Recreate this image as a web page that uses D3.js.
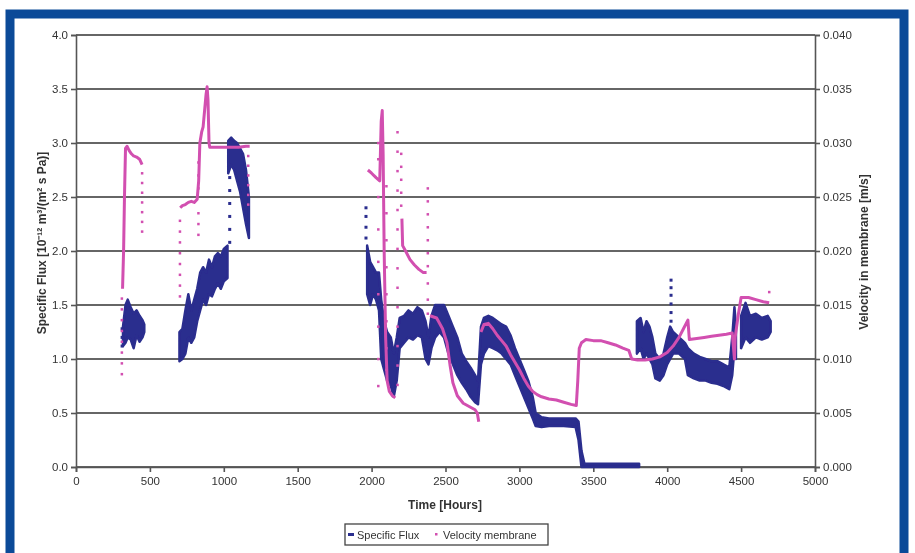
<!DOCTYPE html>
<html>
<head>
<meta charset="utf-8">
<script src="https://cdn.jsdelivr.net/npm/d3@7"></script>
<style>
  html, body { margin: 0; padding: 0; background: #fff; }
  svg { display: block; font-family: "Liberation Sans", Arial, sans-serif; }
</style>
</head>
<body>
<svg id="chart" width="915" height="553"></svg>
<script>
// ---------------- DATA ----------------
const xTicks = [0, 500, 1000, 1500, 2000, 2500, 3000, 3500, 4000, 4500, 5000];
const leftTicks = [0, 0.5, 1.0, 1.5, 2.0, 2.5, 3.0, 3.5, 4.0];
const rightTicks = [0, 0.005, 0.010, 0.015, 0.020, 0.025, 0.030, 0.035, 0.040];

const seriesNames = ["Specific Flux", "Velocity membrane"];
const xTitle = "Time  [Hours]";
const leftTitle = "Specific Flux  [10\u207B\u00B9\u00B2 m\u00B3/(m\u00B2 s Pa)]";
const rightTitle = "Velocity in membrane  [m/s]";

// Specific flux: dense noisy cloud, given as [time, low, high]
const fluxSeg1 = [
  [318, 1.12, 1.30], [335, 1.15, 1.50], [350, 1.20, 1.55], [370, 1.18, 1.48],
  [390, 1.10, 1.42], [410, 1.22, 1.45], [430, 1.16, 1.40], [450, 1.20, 1.36], [462, 1.25, 1.32]
];
const fluxSeg2 = [
  [700, 0.98, 1.25], [720, 1.00, 1.28], [740, 1.05, 1.45], [760, 1.20, 1.60],
  [780, 1.15, 1.45], [800, 1.20, 1.55], [820, 1.35, 1.65], [840, 1.45, 1.80],
  [860, 1.55, 1.85], [880, 1.50, 1.80], [900, 1.60, 1.92], [920, 1.58, 1.85],
  [940, 1.65, 1.95], [960, 1.70, 1.98], [980, 1.65, 1.95], [1000, 1.72, 2.02],
  [1025, 1.75, 2.05]
];
const fluxSeg3 = [
  [1030, 2.72, 3.02], [1050, 2.80, 3.05], [1070, 2.75, 3.02], [1090, 2.65, 3.00],
  [1110, 2.55, 2.95], [1130, 2.40, 2.90], [1150, 2.25, 2.75], [1170, 2.12, 2.50]
];
const fluxSeg4 = [
  [1970, 1.60, 2.05], [1990, 1.50, 1.90], [2010, 1.60, 1.85], [2030, 1.55, 1.80],
  [2050, 1.45, 1.80], [2065, 1.00, 1.55], [2085, 0.90, 1.35], [2105, 0.80, 1.25],
  [2130, 0.75, 1.20], [2150, 0.65, 1.05], [2170, 0.80, 1.20], [2190, 1.10, 1.38],
  [2220, 1.15, 1.40], [2250, 1.20, 1.45], [2280, 1.18, 1.42], [2310, 1.22, 1.48],
  [2340, 1.20, 1.45], [2365, 1.00, 1.35], [2385, 0.95, 1.20], [2405, 1.10, 1.40],
  [2430, 1.20, 1.50], [2460, 1.25, 1.50], [2490, 1.20, 1.50], [2520, 1.05, 1.40],
  [2550, 0.95, 1.30], [2580, 0.85, 1.20], [2610, 0.78, 1.05], [2640, 0.72, 0.98],
  [2670, 0.65, 0.92], [2700, 0.60, 0.85], [2720, 0.58, 0.80], [2740, 0.95, 1.30],
  [2760, 1.05, 1.38], [2790, 1.12, 1.40], [2820, 1.10, 1.38], [2850, 1.08, 1.35],
  [2880, 1.05, 1.32], [2910, 1.00, 1.30], [2940, 0.95, 1.22], [2970, 0.85, 1.10],
  [3000, 0.75, 1.00], [3030, 0.65, 0.90], [3060, 0.55, 0.80], [3090, 0.45, 0.65],
  [3110, 0.38, 0.50], [3150, 0.37, 0.46], [3200, 0.38, 0.45], [3300, 0.38, 0.45],
  [3380, 0.37, 0.45], [3400, 0.25, 0.42], [3420, 0.00, 0.15], [3440, 0.00, 0.03],
  [3810, 0.00, 0.03]
];
const fluxSeg5 = [
  [3795, 1.05, 1.35], [3820, 1.10, 1.38], [3840, 1.00, 1.25], [3860, 1.05, 1.35],
  [3880, 1.00, 1.30], [3900, 0.95, 1.20], [3920, 0.82, 1.05], [3950, 0.80, 1.00],
  [3975, 0.85, 1.05], [4000, 0.95, 1.20], [4020, 1.00, 1.30], [4040, 1.05, 1.25],
  [4080, 1.05, 1.20], [4120, 1.00, 1.15], [4140, 0.85, 1.10], [4180, 0.82, 1.05],
  [4220, 0.80, 1.02], [4260, 0.80, 1.00], [4300, 0.78, 0.98], [4340, 0.77, 0.98],
  [4380, 0.75, 0.95], [4420, 0.72, 0.92], [4440, 0.85, 1.20], [4455, 1.10, 1.48],
  [4465, 1.00, 1.30]
];
const fluxSeg6 = [
  [4500, 1.10, 1.40], [4530, 1.20, 1.52], [4560, 1.15, 1.40], [4600, 1.20, 1.42],
  [4640, 1.18, 1.38], [4680, 1.20, 1.40], [4700, 1.25, 1.35]
];
const fluxSegments = [fluxSeg1, fluxSeg2, fluxSeg3, fluxSeg4, fluxSeg5, fluxSeg6];

// Isolated flux markers (sparse columns): [time, value]
const fluxDots = [
  [312, 1.12], [312, 1.20], [312, 1.28],
  [1040, 2.08], [1040, 2.20], [1040, 2.32], [1040, 2.44], [1040, 2.56], [1040, 2.68],
  [1962, 2.12], [1962, 2.22], [1962, 2.32], [1962, 2.40],
  [4026, 1.35], [4026, 1.43], [4026, 1.51], [4026, 1.59], [4026, 1.66], [4026, 1.73]
];

// Velocity in membrane [m/s]: line segments [time, value]
const velSeg1 = [
  [315, 0.0165], [322, 0.0200], [328, 0.0250], [335, 0.0295], [345, 0.0297],
  [360, 0.0293], [375, 0.0290], [390, 0.0288], [410, 0.0287], [430, 0.0285], [447, 0.0280]
];
const velSeg2 = [
  [705, 0.0240], [720, 0.0242], [740, 0.0243], [760, 0.0245], [780, 0.0246],
  [800, 0.0245], [820, 0.0248], [830, 0.0265], [838, 0.0300], [850, 0.0310],
  [860, 0.0315], [870, 0.0330], [880, 0.0345], [887, 0.0352], [893, 0.0340],
  [900, 0.0300], [905, 0.0296], [950, 0.0296], [1000, 0.0296], [1050, 0.0296],
  [1100, 0.0296], [1150, 0.0297], [1175, 0.0297]
];
const velSeg3 = [
  [1975, 0.0275], [2000, 0.0272], [2030, 0.0268], [2055, 0.0265], [2065, 0.0320],
  [2072, 0.0330], [2078, 0.0290], [2085, 0.0200], [2095, 0.0120], [2105, 0.0080],
  [2120, 0.0070], [2140, 0.0066], [2160, 0.0064]
];
const velSeg4 = [
  [2205, 0.0230], [2210, 0.0205], [2230, 0.0200], [2260, 0.0192], [2290, 0.0187],
  [2320, 0.0183], [2350, 0.0180], [2372, 0.0180]
];
const velSeg5 = [
  [2395, 0.0140], [2440, 0.0138], [2480, 0.0128], [2510, 0.0115], [2530, 0.0095],
  [2550, 0.0078], [2580, 0.0066], [2620, 0.0059], [2660, 0.0056], [2700, 0.0053],
  [2715, 0.0050], [2725, 0.0042]
];
const velSeg6 = [
  [2740, 0.0125], [2760, 0.0132], [2790, 0.0133], [2820, 0.0128], [2850, 0.0122],
  [2880, 0.0117], [2910, 0.0112], [2940, 0.0104], [2970, 0.0097], [3000, 0.0090],
  [3030, 0.0082], [3060, 0.0075], [3090, 0.0070], [3120, 0.0067], [3150, 0.0065],
  [3200, 0.0063], [3250, 0.0062], [3300, 0.0060], [3350, 0.0058], [3385, 0.0057],
  [3395, 0.0080], [3405, 0.0110], [3420, 0.0115], [3450, 0.0118], [3500, 0.0117],
  [3550, 0.0117], [3600, 0.0115], [3650, 0.0113], [3700, 0.0110], [3740, 0.0108],
  [3760, 0.0100], [3800, 0.0099], [3850, 0.0099], [3900, 0.0100], [3950, 0.0102],
  [4000, 0.0106], [4040, 0.0112], [4080, 0.0120], [4110, 0.0128], [4140, 0.0136],
  [4150, 0.0118], [4200, 0.0119], [4250, 0.0120], [4300, 0.0121], [4350, 0.0122],
  [4400, 0.0123], [4440, 0.0124], [4455, 0.0100], [4460, 0.0120], [4480, 0.0140],
  [4500, 0.0157], [4550, 0.0157], [4600, 0.0155], [4650, 0.0153], [4690, 0.0152]
];
const velSegments = [velSeg1, velSeg2, velSeg3, velSeg4, velSeg5, velSeg6];

// Isolated velocity markers (sparse dotted columns): [time, value]
const velDots = [
  [310, 0.0086], [310, 0.0096], [310, 0.0106], [310, 0.0116], [310, 0.0126], [310, 0.0136], [310, 0.0146], [310, 0.0156],
  [447, 0.0272], [447, 0.0263], [447, 0.0254], [447, 0.0245], [447, 0.0236], [447, 0.0227], [447, 0.0218],
  [703, 0.0158], [703, 0.0168], [703, 0.0178], [703, 0.0188], [703, 0.0198], [703, 0.0208], [703, 0.0218], [703, 0.0228],
  [828, 0.0215], [828, 0.0225], [828, 0.0235], [828, 0.0258], [828, 0.0270], [828, 0.0282],
  [1165, 0.0288], [1165, 0.0279], [1165, 0.0270], [1165, 0.0261], [1165, 0.0252], [1165, 0.0243],
  [2045, 0.0300], [2045, 0.0285], [2045, 0.0250], [2045, 0.0220], [2045, 0.0190], [2045, 0.0160], [2045, 0.0130], [2045, 0.0100], [2045, 0.0075],
  [2100, 0.0260], [2100, 0.0235], [2100, 0.0210], [2100, 0.0185], [2100, 0.0160], [2100, 0.0135], [2100, 0.0110], [2100, 0.0090],
  [2175, 0.0310], [2175, 0.0292], [2175, 0.0274], [2175, 0.0256], [2175, 0.0238], [2175, 0.0220], [2175, 0.0202], [2175, 0.0184], [2175, 0.0166], [2175, 0.0148], [2175, 0.0130], [2175, 0.0112], [2175, 0.0094], [2175, 0.0076],
  [2200, 0.0290], [2200, 0.0278], [2200, 0.0266], [2200, 0.0254], [2200, 0.0242],
  [2380, 0.0258], [2380, 0.0246], [2380, 0.0234], [2380, 0.0222], [2380, 0.0210], [2380, 0.0198], [2380, 0.0186], [2380, 0.0170], [2380, 0.0155], [2380, 0.0142],
  [4690, 0.0162]
];

// ---------------- DRAW ----------------
const svg = d3.select("#chart");
const blue = "#2c2d8e", pink = "#d24fb0", gridCol = "#666", textCol = "#333";
const FONT = "'Liberation Sans', Arial, sans-serif";

const x = d3.scaleLinear().domain([0, 5000]).range([76, 815]);
const yL = d3.scaleLinear().domain([0, 4]).range([467, 35]);
const yR = d3.scaleLinear().domain([0, 0.04]).range([467, 35]);

const defs = svg.append("defs");
defs.append("filter").attr("id", "soft").append("feGaussianBlur").attr("stdDeviation", 0.5);

// Blue frame
svg.append("rect").attr("x", 10).attr("y", 14).attr("width", 894).attr("height", 560)
  .attr("fill", "none").attr("stroke", "#0b4a98").attr("stroke-width", 9);

const g = svg.append("g").attr("filter", "url(#soft)");

// Gridlines
g.append("g").selectAll("line").data(leftTicks).join("line")
  .attr("x1", x(0)).attr("x2", x(5000))
  .attr("y1", d => yL(d)).attr("y2", d => yL(d))
  .attr("stroke", gridCol).attr("stroke-width", 2);

// Axes
const fmtL = d3.format(".1f"), fmtR = d3.format(".3f");
const axL = g.append("g").attr("transform", `translate(${x(0)},0)`)
  .call(d3.axisLeft(yL).tickValues(leftTicks).tickFormat(fmtL).tickSize(5).tickPadding(3));
const axR = g.append("g").attr("transform", `translate(${x(5000)},0)`)
  .call(d3.axisRight(yR).tickValues(rightTicks).tickFormat(fmtR).tickSize(5).tickPadding(3));
const axB = g.append("g").attr("transform", `translate(0,${yL(0)})`)
  .call(d3.axisBottom(x).tickValues(xTicks).tickFormat(d3.format("d")).tickSize(5).tickPadding(5));
[axL, axR, axB].forEach(a => {
  a.select(".domain").attr("stroke", "#555").attr("stroke-width", 1.6);
  a.selectAll(".tick line").attr("stroke", "#555").attr("stroke-width", 1.6);
  a.selectAll(".tick text").attr("fill", textCol).attr("font-size", 11.5)
    .attr("font-family", FONT);
});

// Flux cloud
const area = d3.area().x(d => x(d[0])).y0(d => yL(d[1])).y1(d => yL(d[2]));
g.append("g").selectAll("path").data(fluxSegments).join("path")
  .attr("d", area).attr("fill", blue).attr("stroke", blue).attr("stroke-width", 2.5)
  .attr("stroke-linejoin", "round");
g.append("g").selectAll("rect").data(fluxDots).join("rect")
  .attr("x", d => x(d[0]) - 1.5).attr("y", d => yL(d[1]) - 1.5)
  .attr("width", 3).attr("height", 3).attr("fill", blue);

// Velocity
const line = d3.line().x(d => x(d[0])).y(d => yR(d[1]));
g.append("g").selectAll("path").data(velSegments).join("path")
  .attr("d", line).attr("fill", "none").attr("stroke", pink).attr("stroke-width", 3)
  .attr("stroke-linejoin", "round");
g.append("g").selectAll("rect").data(velDots).join("rect")
  .attr("x", d => x(d[0]) - 1.2).attr("y", d => yR(d[1]) - 1.2)
  .attr("width", 2.5).attr("height", 2.5).attr("fill", pink);

// Axis titles
g.append("text").attr("transform", `translate(46,243) rotate(-90)`)
  .attr("text-anchor", "middle").attr("font-size", 12).attr("font-weight", "bold")
  .attr("font-family", FONT).attr("fill", textCol).text(leftTitle);
g.append("text").attr("transform", `translate(868,252) rotate(-90)`)
  .attr("text-anchor", "middle").attr("font-size", 12).attr("font-weight", "bold")
  .attr("font-family", FONT).attr("fill", textCol).text(rightTitle);
g.append("text").attr("x", 445).attr("y", 509).attr("text-anchor", "middle")
  .attr("font-size", 12).attr("font-weight", "bold").attr("font-family", FONT)
  .attr("fill", textCol).text(xTitle);

// Legend
const lg = g.append("g").attr("font-family", FONT);
lg.append("rect").attr("x", 345).attr("y", 524).attr("width", 203).attr("height", 21)
  .attr("fill", "#fff").attr("stroke", "#444").attr("stroke-width", 1.3);
lg.append("rect").attr("x", 348).attr("y", 533).attr("width", 6).attr("height", 3).attr("fill", blue);
lg.append("text").attr("x", 357).attr("y", 539).attr("font-size", 11).attr("fill", textCol).text(seriesNames[0]);
lg.append("rect").attr("x", 435).attr("y", 533).attr("width", 2.5).attr("height", 2.5).attr("fill", pink);
lg.append("text").attr("x", 443).attr("y", 539).attr("font-size", 11).attr("fill", textCol).text(seriesNames[1]);
</script>
</body>
</html>
